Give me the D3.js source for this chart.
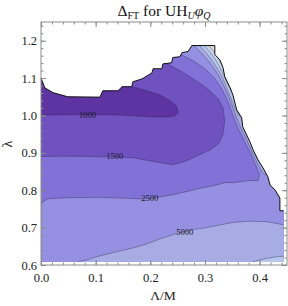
<!DOCTYPE html>
<html>
<head>
<meta charset="utf-8">
<script src="https://cdn.jsdelivr.net/npm/d3@7"></script>
<style>
  body { margin: 0; background: #fff; }
  svg text { font-family: "Liberation Serif", "Times New Roman", Times, serif; }
</style>
</head>
<body>
<svg width="288" height="306"></svg>
<script>
// contour levels (Delta_FT) and their labels
var levels = [1000, 1500, 2500, 5000, 10000, 20000, 50000];
var labelled = [1000, 1500, 2500, 5000];
var labelAt = [[0.085, 1.000], [0.135, 0.891], [0.199, 0.778], [0.263, 0.689]];

// axis ticks
var xTicks = [0.0, 0.1, 0.2, 0.3, 0.4];
var yTicks = [0.6, 0.7, 0.8, 0.9, 1.0, 1.1, 1.2];

// edge of the allowed region (Lambda/M, lambda)
var edge = [[0, 1.100], [0.007, 1.074], [0.022, 1.061], [0.049, 1.050], [0.108, 1.049],
  [0.113, 1.066], [0.141, 1.066], [0.148, 1.077], [0.166, 1.077], [0.168, 1.090],
  [0.185, 1.098], [0.203, 1.114], [0.205, 1.125], [0.221, 1.125], [0.223, 1.138],
  [0.239, 1.141], [0.241, 1.155], [0.254, 1.157], [0.258, 1.168], [0.269, 1.171],
  [0.276, 1.187], [0.318, 1.187], [0.318, 1.163], [0.327, 1.149], [0.333, 1.128],
  [0.336, 1.104], [0.346, 1.074], [0.351, 1.055], [0.358, 1.015], [0.367, 0.994],
  [0.369, 0.970], [0.382, 0.930], [0.388, 0.908], [0.397, 0.881], [0.406, 0.860],
  [0.415, 0.836], [0.419, 0.814], [0.428, 0.801], [0.437, 0.779], [0.437, 0.745],
  [0.444, 0.745]];
var lambdaMin = 0.608;
var ratioMax = 0.444;

// contour curves
var c1000 = [[0, 1.001], [0.05, 1.002], [0.108, 1.002], [0.132, 1.002], [0.169, 0.999],
  [0.205, 0.996], [0.232, 0.996], [0.245, 0.999], [0.251, 1.008], [0.248, 1.024],
  [0.239, 1.037], [0.218, 1.055], [0.187, 1.069], [0.165, 1.078]];
var c1500 = [[0.23, 1.139], [0.26, 1.115], [0.29, 1.087], [0.31, 1.065], [0.324, 1.045],
  [0.333, 1.02], [0.336, 0.985], [0.333, 0.95], [0.325, 0.925], [0.31, 0.908],
  [0.29, 0.895], [0.265, 0.878], [0.241, 0.868], [0.205, 0.877], [0.168, 0.887],
  [0.1, 0.890], [0.05, 0.891], [0, 0.890]];
var c2500 = [[0.256, 1.163], [0.28, 1.145], [0.30, 1.125], [0.317, 1.10], [0.329, 1.075],
  [0.338, 1.05], [0.345, 1.025], [0.351, 1.0], [0.36, 0.967], [0.372, 0.932],
  [0.384, 0.897], [0.394, 0.862], [0.40, 0.842], [0.397, 0.826], [0.38, 0.826],
  [0.352, 0.82], [0.339, 0.821], [0.315, 0.812], [0.291, 0.805], [0.265, 0.796],
  [0.241, 0.788], [0.2, 0.778], [0.181, 0.777], [0.108, 0.781], [0.047, 0.780],
  [0.013, 0.777], [0.004, 0.770], [0, 0.762]];
var c5000top = [[0.277, 1.19], [0.293, 1.168], [0.308, 1.143], [0.321, 1.117], [0.331, 1.09],
  [0.34, 1.062], [0.348, 1.033], [0.355, 1.005], [0.364, 0.972], [0.376, 0.936],
  [0.387, 0.9], [0.397, 0.868], [0.405, 0.848], [0.412, 0.84]];
var c5000low = [[0.058, 0.60], [0.065, 0.607], [0.085, 0.614], [0.099, 0.621], [0.126, 0.631],
  [0.169, 0.646], [0.193, 0.656], [0.218, 0.670], [0.248, 0.684], [0.275, 0.694],
  [0.303, 0.700], [0.33, 0.708], [0.352, 0.714], [0.38, 0.717], [0.413, 0.716],
  [0.435, 0.71], [0.45, 0.706]];
var c10000top = [[0.288, 1.19], [0.302, 1.168], [0.315, 1.143], [0.325, 1.12], [0.333, 1.098],
  [0.341, 1.07], [0.348, 1.045], [0.354, 1.022], [0.362, 1.0], [0.372, 0.985]];
var c10000low = [[0.378, 0.60], [0.388, 0.609], [0.41, 0.617], [0.431, 0.622], [0.45, 0.624]];
var c20000 = [[0.297, 1.19], [0.309, 1.17], [0.319, 1.15], [0.327, 1.13], [0.334, 1.108],
  [0.341, 1.085], [0.348, 1.065], [0.353, 1.058]];
var c50000 = [[0.305, 1.19], [0.314, 1.175], [0.321, 1.16], [0.327, 1.145], [0.333, 1.13],
  [0.337, 1.124]];

// shading from low to high Delta
var shades = ["#5e33a2", "#6f51c0", "#8272d7", "#9690e2", "#a7ade4", "#b7c6eb", "#c9d6e9", "#dcddd3"];
var serif = "'Liberation Serif', 'Times New Roman', Times, serif";

var svg = d3.select("svg");

var x = d3.scaleLinear().domain([0, 0.45]).range([41, 287]);
var y = d3.scaleLinear().domain([0.6, 1.25]).range([265, 22]);

var line = d3.line()
    .x(function(d) { return x(d[0]); })
    .y(function(d) { return y(d[1]); });

// region where the scan has points
var domainPoly = edge.concat([[ratioMax, lambdaMin], [0, lambdaMin]]);

svg.append("clipPath")
    .attr("id", "region")
  .append("path")
    .attr("d", line(domainPoly) + "Z");

var plot = svg.append("g").attr("clip-path", "url(#region)");

// close a contour into a fill polygon with points outside the region
function area(pts, before, after) {
  return line(before.concat(pts, after)) + "Z";
}

var fills = [
  { d: line(domainPoly) + "Z", shade: 1 },
  { d: area(c1000, [], [[0.165, 1.3], [0, 1.3]]), shade: 0 },
  { d: area(c1500, [[0.23, 1.3]], [[-0.1, 0.89], [-0.1, 0.5], [0.5, 0.5], [0.5, 1.3]]), shade: 2 },
  { d: area(c2500, [[0.256, 1.3]], [[-0.1, 0.762], [-0.1, 0.5], [0.5, 0.5], [0.5, 1.3]]), shade: 3 },
  { d: area(c5000top, [[0.277, 1.3]], [[0.5, 0.84], [0.5, 1.3]]), shade: 4 },
  { d: area(c5000low, [], [[0.5, 0.706], [0.5, 0.5], [0.058, 0.5]]), shade: 4 },
  { d: area(c10000top, [[0.288, 1.3]], [[0.5, 0.985], [0.5, 1.3]]), shade: 5 },
  { d: area(c10000low, [], [[0.5, 0.624], [0.5, 0.5], [0.378, 0.5]]), shade: 5 },
  { d: area(c20000, [[0.297, 1.3]], [[0.5, 1.058], [0.5, 1.3]]), shade: 6 },
  { d: area(c50000, [[0.305, 1.3]], [[0.5, 1.124], [0.5, 1.3]]), shade: 7 }
];

plot.selectAll("path.fill")
    .data(fills)
    .enter()
    .append("path")
    .attr("class", "fill")
    .attr("d", function(d) { return d.d; })
    .attr("fill", function(d) { return shades[d.shade]; })
    .attr("stroke", "none");

plot.selectAll("path.contour")
    .data([c1000, c1500, c2500, c5000top, c5000low, c10000top, c10000low, c20000, c50000])
    .enter()
    .append("path")
    .attr("class", "contour")
    .attr("d", line)
    .attr("fill", "none")
    .attr("stroke", "#2a2440")
    .attr("stroke-opacity", 0.45)
    .attr("stroke-width", 0.8);

// contour labels
svg.selectAll("text.lab")
    .data(labelled)
    .enter()
    .append("text")
    .attr("class", "lab")
    .attr("x", function(d, i) { return x(labelAt[i][0]); })
    .attr("y", function(d, i) { return y(labelAt[i][1]); })
    .attr("dy", "0.33em")
    .attr("text-anchor", "middle")
    .attr("font-size", 8.5)
    .attr("fill", "#1a1a1a")
    .text(function(d) { return d; });

// black edge of the region
svg.append("path")
    .attr("d", line(edge))
    .attr("fill", "none")
    .attr("stroke", "#111")
    .attr("stroke-width", 1);

// frame with inward ticks on all sides
var tickColor = "#8a8a8a";
var xMinor = d3.range(0, 0.4501, 0.02);
var yMinor = d3.range(0.6, 1.2501, 0.02);

function styleAxis(g) {
  g.attr("font-family", serif);
  g.select(".domain").remove();
  g.selectAll(".tick line").attr("stroke", tickColor);
  g.selectAll(".tick text")
      .attr("fill", "#222")
      .attr("font-size", 12.5);
}

svg.append("g").attr("transform", "translate(0,265)")
    .call(d3.axisBottom(x).tickValues(xMinor).tickSize(-2.5).tickFormat(""))
    .call(styleAxis);
svg.append("g").attr("transform", "translate(0,265)")
    .call(d3.axisBottom(x).tickValues(xTicks).tickSize(-5).tickPadding(8).tickFormat(d3.format(".1f")))
    .call(styleAxis);
svg.append("g").attr("transform", "translate(0,22)")
    .call(d3.axisTop(x).tickValues(xMinor).tickSize(-2.5).tickFormat(""))
    .call(styleAxis);
svg.append("g").attr("transform", "translate(0,22)")
    .call(d3.axisTop(x).tickValues(xTicks).tickSize(-5).tickFormat(""))
    .call(styleAxis);

svg.append("g").attr("transform", "translate(41,0)")
    .call(d3.axisLeft(y).tickValues(yMinor).tickSize(-2.5).tickFormat(""))
    .call(styleAxis);
svg.append("g").attr("transform", "translate(41,0)")
    .call(d3.axisLeft(y).tickValues(yTicks).tickSize(-5).tickPadding(4).tickFormat(d3.format(".1f")))
    .call(styleAxis);
svg.append("g").attr("transform", "translate(287,0)")
    .call(d3.axisRight(y).tickValues(yMinor).tickSize(-2.5).tickFormat(""))
    .call(styleAxis);
svg.append("g").attr("transform", "translate(287,0)")
    .call(d3.axisRight(y).tickValues(yTicks).tickSize(-5).tickFormat(""))
    .call(styleAxis);

svg.append("rect")
    .attr("x", 41)
    .attr("y", 22)
    .attr("width", 246)
    .attr("height", 243)
    .attr("fill", "none")
    .attr("stroke", tickColor)
    .attr("stroke-width", 1);

// title  Delta_FT for UH_U phi_Q
var title = svg.append("text")
    .attr("x", 164)
    .attr("y", 16)
    .attr("text-anchor", "middle")
    .attr("font-size", 15.5)
    .attr("fill", "#111");
title.append("tspan").text("Δ");
title.append("tspan").attr("font-size", 10).attr("dy", 3).text("FT");
title.append("tspan").attr("dy", -3).text(" for UH");
title.append("tspan").attr("font-size", 10).attr("font-style", "italic").attr("dy", 3).text("U");
title.append("tspan").attr("font-style", "italic").attr("dy", -3).text("φ");
title.append("tspan").attr("font-size", 10).attr("font-style", "italic").attr("dy", 3).text("Q");

// axis labels
svg.append("text")
    .attr("transform", "translate(12,144) rotate(-90)")
    .attr("text-anchor", "middle")
    .attr("font-size", 14)
    .attr("fill", "#222")
    .text("λ");

svg.append("text")
    .attr("x", 163)
    .attr("y", 300)
    .attr("text-anchor", "middle")
    .attr("font-size", 13.5)
    .attr("fill", "#222")
    .text("Λ/M");
</script>
</body>
</html>
